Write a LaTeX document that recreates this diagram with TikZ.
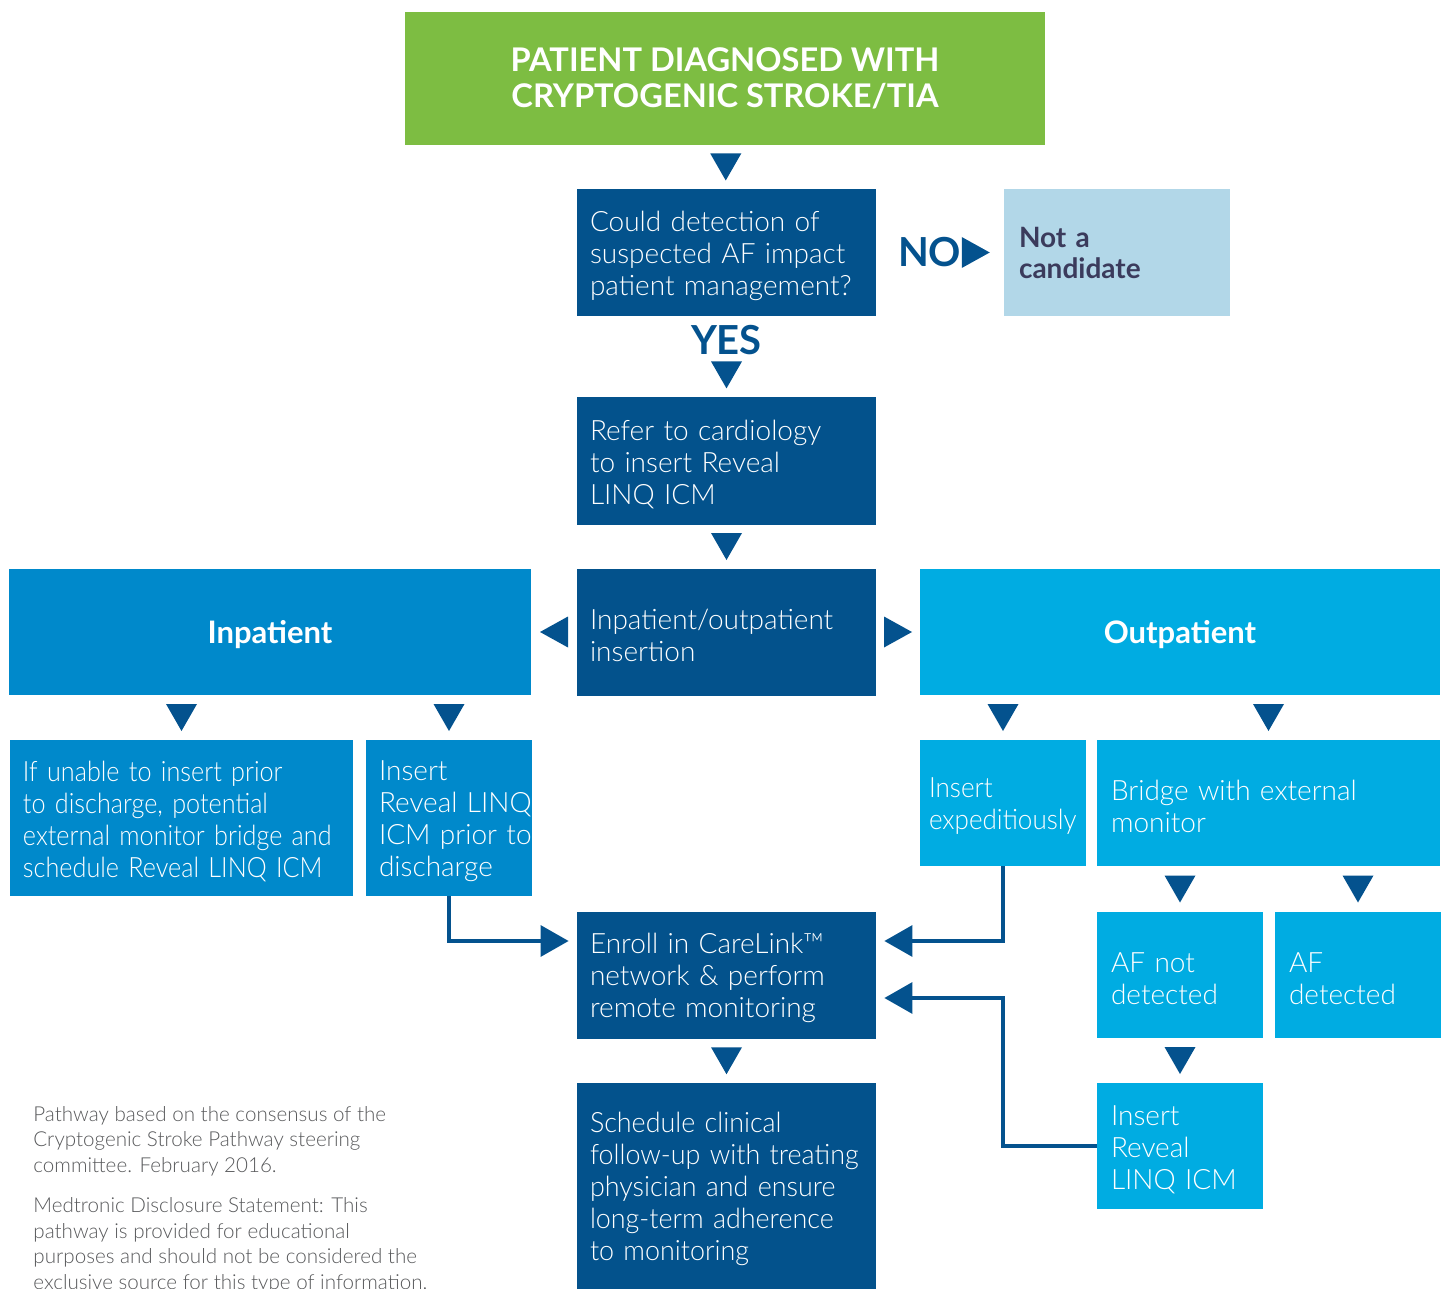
\documentclass[tikz,border=0pt]{standalone}
\usepackage{fontspec}
\setmainfont{Lato}
\newfontfamily\lightfont{Lato Light}
\newfontfamily\condfont{Lato Light}[FakeStretch=0.9]
\newfontfamily\semicondfont{Lato Light}[FakeStretch=0.93]
\newfontfamily\slightcondfont{Lato Light}[FakeStretch=0.96]
\usetikzlibrary{arrows.meta,calc}
\definecolor{dblue}{HTML}{03528C}
\definecolor{inblue}{HTML}{0089CB}
\definecolor{outblue}{HTML}{00ACE2}
\definecolor{tgreen}{HTML}{7DBD42}
\definecolor{lblue}{HTML}{B2D7E8}
\definecolor{slate}{HTML}{3B3B5C}
\definecolor{tricol}{HTML}{04528E}
\definecolor{notegray}{HTML}{58595B}
\begin{document}
\begin{tikzpicture}[x=0.5pt,y=-0.5pt,
  box/.style={rectangle, inner xsep=6.5pt, inner ysep=0pt, align=left, text=white,
    font=\lightfont\fontsize{14}{16}\selectfont,
    execute at begin node={\hyphenpenalty=10000\exhyphenpenalty=10000\relax\rule{0pt}{13.4pt}}},
  dbox/.style={box, fill=dblue, text width=136.5pt, minimum height=63.5pt},
  ibox/.style={box, fill=inblue},
  obox/.style={box, fill=outblue, inner xsep=7pt},
  nbox/.style={rectangle, fill=lblue, text=slate, inner xsep=7.5pt, inner ysep=0pt,
    align=left, text width=98pt, minimum height=63.5pt,
    font=\bfseries\fontsize{14}{15.5}\selectfont},
  head/.style={rectangle, inner sep=0pt, align=center, text=white, text depth=0pt,
    font=\bfseries\fontsize{15.5}{18}\selectfont, minimum height=63pt},
  lbl/.style={inner sep=0pt, text=tricol, font=\bfseries\fontsize{20}{20}\selectfont},
  note/.style={inner sep=0pt, align=left, text=notegray,
    font=\lightfont\fontsize{10.3}{12.75}\selectfont},
  conn/.style={draw=tricol, line width=1.6pt, -{Triangle[length=14pt,width=15.5pt]}},
  tridown/.pic={\fill[tricol] (-15.5,-13.5) -- (15.5,-13.5) -- (0,13.5) -- cycle;},
  triright/.pic={\fill[tricol] (-14,-15.5) -- (-14,15.5) -- (14,0) -- cycle;},
  trileft/.pic={\fill[tricol] (14,-15.5) -- (14,15.5) -- (-14,0) -- cycle;}
]
\useasboundingbox (0,0) rectangle (1447,1289);

% title
\node[head, fill=tgreen, minimum width=320pt, minimum height=66.5pt, text depth=,
  font=\bfseries\fontsize{16.3}{18}\selectfont] (title) at (725,78.5)
  {PATIENT DIAGNOSED WITH\\CRYPTOGENIC STROKE/TIA};

% main column
\node[dbox] (q) at (726.5,252.5) {Could detection of\\suspected AF impact\\patient~management?};
\node[nbox] (nobox) at (1117,252.5) {Not a\\candidate};
\node[dbox] (refer) at (726.5,461) {Refer to cardiology\\to insert Reveal\\LINQ ICM};
\node[dbox] (mid) at (726.5,632) {Inpatient/outpatient\\insertion};
\node[dbox] (enroll) at (726.5,975) {Enroll in CareLink™\\network \& perform\\remote~monitoring};
\node[dbox, minimum height=103pt, font=\slightcondfont\fontsize{14}{16}\selectfont] (sched) at (726.5,1186)
  {Schedule clinical\\follow-up~with~treating\\physician~and~ensure\\long-term~adherence\\to monitoring};

% inpatient side
\node[head, fill=inblue, minimum width=261pt] (inp) at (270,632) {Inpatient};
\node[ibox, text width=158.5pt, minimum height=78pt, font=\condfont\fontsize{14}{16}\selectfont] (L1) at (181.5,818)
  {If~unable~to~insert~prior\\to~discharge,~potential\\external~monitor~bridge~and\\schedule~Reveal~LINQ~ICM};
\node[ibox, text width=70pt, minimum height=78pt] (L2) at (449,818)
  {Insert\\Reveal~LINQ\\ICM~prior~to\\discharge};

% outpatient side
\node[head, fill=outblue, minimum width=260pt] (outp) at (1180,632) {Outpatient};
\node[obox, inner xsep=4.5pt, text width=74pt, minimum height=63pt,
  font=\semicondfont\fontsize{14}{16}\selectfont] (R1) at (1003,803)
  {Insert\\expeditiously};
\node[obox, text width=157.5pt, minimum height=63pt] (R2) at (1268.5,803)
  {Bridge with external\\monitor};
\node[obox, text width=69pt, minimum height=63pt] (afn) at (1180,975) {AF~not\\detected};
\node[obox, text width=69pt, minimum height=63pt] (afd) at (1358,975) {AF\\detected};
\node[obox, text width=69pt, minimum height=63pt] (ins) at (1180,1146)
  {Insert\\Reveal\\LINQ~ICM};

% labels and triangles
\path (title.south) -- (q.north) pic[midway]{tridown};
\path (q.east) -- (nobox.west) node[lbl, pos=0.418] (no) {NO} pic[pos=0.781]{triright};
\path (q.south) -- (refer.north) node[lbl, pos=0.29] (yes) {YES} pic[pos=0.725]{tridown};
\path (refer.south) -- (mid.north) pic[midway]{tridown};
\path (mid.west) -- (inp.east) pic[midway]{trileft};
\path (mid.east) -- (outp.west) pic[midway]{triright};
\path (inp.south -| L1.north) -- (L1.north) pic[midway]{tridown};
\path (inp.south -| L2.north) -- (L2.north) pic[midway]{tridown};
\path (outp.south -| R1.north) -- (R1.north) pic[midway]{tridown};
\path (outp.south -| R2.north) -- (R2.north) pic[midway]{tridown};
\path (R2.south -| afn.north) -- (afn.north) pic[midway]{tridown};
\path (R2.south -| afd.north) -- (afd.north) pic[midway]{tridown};
\path (afn.south) -- (ins.north) pic[midway]{tridown};
\path (enroll.south) -- (sched.north) pic[midway]{tridown};

% connectors
\draw[conn] (L2.south) |- ([xshift=-4pt,yshift=17pt]enroll.west);
\draw[conn] (R1.south) |- ([xshift=4pt,yshift=17pt]enroll.east);
\draw[conn] (ins.west) -- (ins.west -| R1.south) |- ([xshift=4pt,yshift=-11.5pt]enroll.east);

% footnote
\node[note, anchor=north west] (fn) at (33,1106)
  {Pathway based on the consensus of the\\Cryptogenic Stroke Pathway steering\\committee. February 2016.\\[7.5pt]Medtronic Disclosure Statement: This\\pathway is provided for educational\\purposes and should not be considered the\\exclusive source for this type of information.};
\end{tikzpicture}
\end{document}
